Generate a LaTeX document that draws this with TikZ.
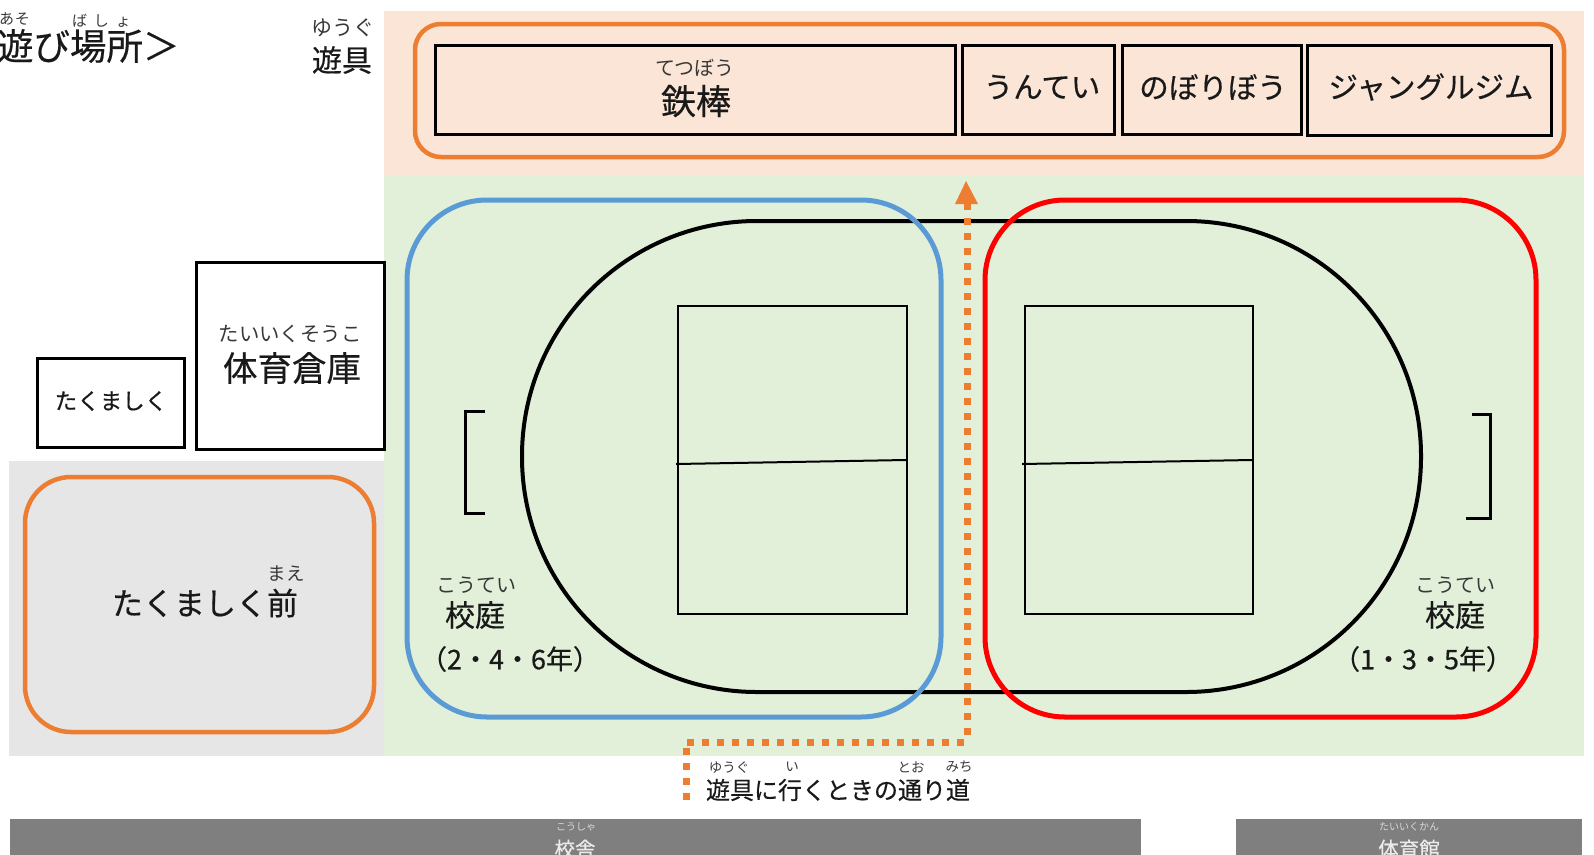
\documentclass[tikz,border=0pt]{standalone}
\usepackage{fontspec}
\setmainfont{Noto Sans CJK JP}[FakeBold=0.45]
\newfontfamily\rubyfont{Noto Sans CJK JP}
\usetikzlibrary{arrows.meta}
\definecolor{ora}{HTML}{ED7D31}
\definecolor{orabg}{HTML}{FBE5D6}
\definecolor{grnbg}{HTML}{E2F0D9}
\definecolor{graybg}{HTML}{E7E6E6}
\definecolor{blu}{HTML}{5B9BD5}
\definecolor{barg}{HTML}{7F7F7F}
\newcommand{\fs}[1]{\fontsize{#1}{#1}\selectfont}
\tikzset{
 x=1pt,y=-1pt,
 bx/.style 2 args={anchor=north west,inner sep=0pt,outer sep=0pt,minimum width=#1,minimum height=#2},
 rnd/.style={rounded corners=#1},
 tx/.style={inner sep=0pt,outer sep=0pt,anchor=center,text=black!90},
 big/.style={tx,font=\fs{#1}},
 ruby/.style={tx,text=black!78,font=\rubyfont\fs{#1}},
 dotline/.style={draw=ora,line width=7pt,dash pattern=on 7pt off 8pt},
}
\begin{document}
\begin{tikzpicture}
\useasboundingbox (0,0) rectangle (1594,854);
\clip (0,0) rectangle (1594,854);
% panels
\node[bx={1200pt}{165pt},fill=orabg] (bgtop) at (384,11) {};
\node[bx={1200pt}{580pt},fill=grnbg] (bggrn) at (384,176) {};
\node[bx={375pt}{295pt},fill=graybg] (bggry) at (9,461) {};
\node[bx={1131pt}{40pt},fill=barg] (barL) at (10,819) {};
\node[bx={346pt}{40pt},fill=barg] (barR) at (1236,819) {};
% top
\node[bx={1149pt}{133pt},draw=ora,line width=4.5pt,rnd=26pt] (play) at (415,24) {};
\node[bx={520pt}{89pt},draw=black,line width=3pt] (b1) at (435,45) {};
\node[bx={152pt}{89pt},draw=black,line width=3pt] (b2) at (962,45) {};
\node[bx={179pt}{89pt},draw=black,line width=3pt] (b3) at (1122,45) {};
\node[bx={244pt}{90pt},draw=black,line width=3pt] (b4) at (1307,45) {};
\node[big=35] (t1) at (696,101) {鉄棒};
\node[ruby=20] (r1) at (695,68) {てつぼう};
\node[big=29.5] (t2) at (1042,87) {うんてい};
\node[big=29.5] (t3) at (1213,87) {のぼりぼう};
\node[big=29.5] (t4) at (1431,87) {ジャングルジム};
% field
\node[bx={899pt}{471pt},draw=black,line width=4pt,rnd=235pt] (track) at (522,221) {};
\node[bx={534pt}{517pt},draw=blu,line width=5pt,rnd=80pt] (blue) at (407,200) {};
\node[bx={551pt}{517pt},draw=red,line width=5pt,rnd=80pt] (redz) at (985,200) {};
\node[bx={229pt}{308pt},draw=black,line width=2pt] (c1) at (678,306) {};
\node[bx={228pt}{308pt},draw=black,line width=2pt] (c2) at (1025,306) {};
\coordinate (c1a) at (676,464);\coordinate (c1b) at (906,460);
\coordinate (c2a) at (1022,464);\coordinate (c2b) at (1252,460);
\draw[line width=2pt] (c1a) -- (c1b);
\draw[line width=2pt] (c2a) -- (c2b);
\coordinate (g1a) at (485,411);\coordinate (g1b) at (465,411);\coordinate (g1c) at (465,513);\coordinate (g1d) at (485,513);
\draw[line width=3pt] (g1a) -- (g1b) -- (g1c) -- (g1d);
\coordinate (g2a) at (1472,414);\coordinate (g2b) at (1490,414);\coordinate (g2c) at (1490,518);\coordinate (g2d) at (1466,518);
\draw[line width=3pt] (g2a) -- (g2b) -- (g2c) -- (g2d);
% left buildings
\node[bx={188pt}{187pt},draw=black,line width=3pt] (soko) at (196,262) {};
\node[bx={147pt}{89pt},draw=black,line width=3pt] (tak) at (37,358) {};
\node[bx={349pt}{255pt},draw=ora,line width=4.5pt,rnd=46pt] (front) at (25,477) {};
\node[big=34.5] (ts) at (292,368) {体育倉庫};
\node[ruby=20.4] (rs) at (290,334) {たいいくそうこ};
\node[big=22.5] (tt) at (111,401) {たくましく};
\node[big=31] (tf) at (205,603) {たくましく前};
\node[ruby=18.5] (rf) at (286,574) {まえ};
% labels
\node[big=36.5,anchor=west] (title) at (-3,46) {遊び場所＞};
\node[ruby=15,anchor=west] (rt1) at (-1,19) {あ\hspace{1pt}そ};
\node[ruby=15,anchor=west] (rt2) at (72,21) {ば\hspace{7pt}し\hspace{7pt}ょ};
\node[big=30] (ty) at (342,60) {遊具};
\node[ruby=21] (ry) at (343,28) {ゆうぐ};
\node[big=30] (k1) at (475,615) {校庭};
\node[ruby=20] (rk1) at (476,585) {こうてい};
\node[big=27] (y1) at (510,659) {（2・4・6年）};
\node[big=30] (k2) at (1455,615) {校庭};
\node[ruby=20] (rk2) at (1455,585) {こうてい};
\node[big=27] (y2) at (1423,659) {（1・3・5年）};
\node[big=24] (leg) at (838,790) {遊具に行くときの通り道};
\node[ruby=13.5] (rl1) at (729,767) {ゆうぐ};
\node[ruby=13.5] (rl2) at (792,767) {い};
\node[ruby=13.5] (rl3) at (911,767) {とお};
\node[ruby=13.5] (rl4) at (959,767) {みち};
\node[big=20.5,text=white!92!black] (sch) at (575,849) {校舎};
\node[ruby=10,text=white!85!black] (rsch) at (576,827) {こうしゃ};
\node[big=20.5,text=white!92!black] (gym) at (1409,849) {体育館};
\node[ruby=10,text=white!85!black] (rgym) at (1409,827) {たいいくかん};
% route
\coordinate (d1) at (686,800);\coordinate (d2) at (686,747);
\coordinate (d3) at (687,742);\coordinate (d4) at (965,742);
\coordinate (d5) at (967,735);\coordinate (d6) at (967,203);
\draw[dotline] (d1) -- (d2);
\draw[dotline] (d3) -- (d4);
\draw[dotline] (d5) -- (d6);
\coordinate (tip) at (966,181);
\coordinate (ah1) at (955,204);\coordinate (ah2) at (978,204);
\fill[ora] (tip) -- (ah1) -- (ah2) -- cycle;
\end{tikzpicture}
\end{document}
